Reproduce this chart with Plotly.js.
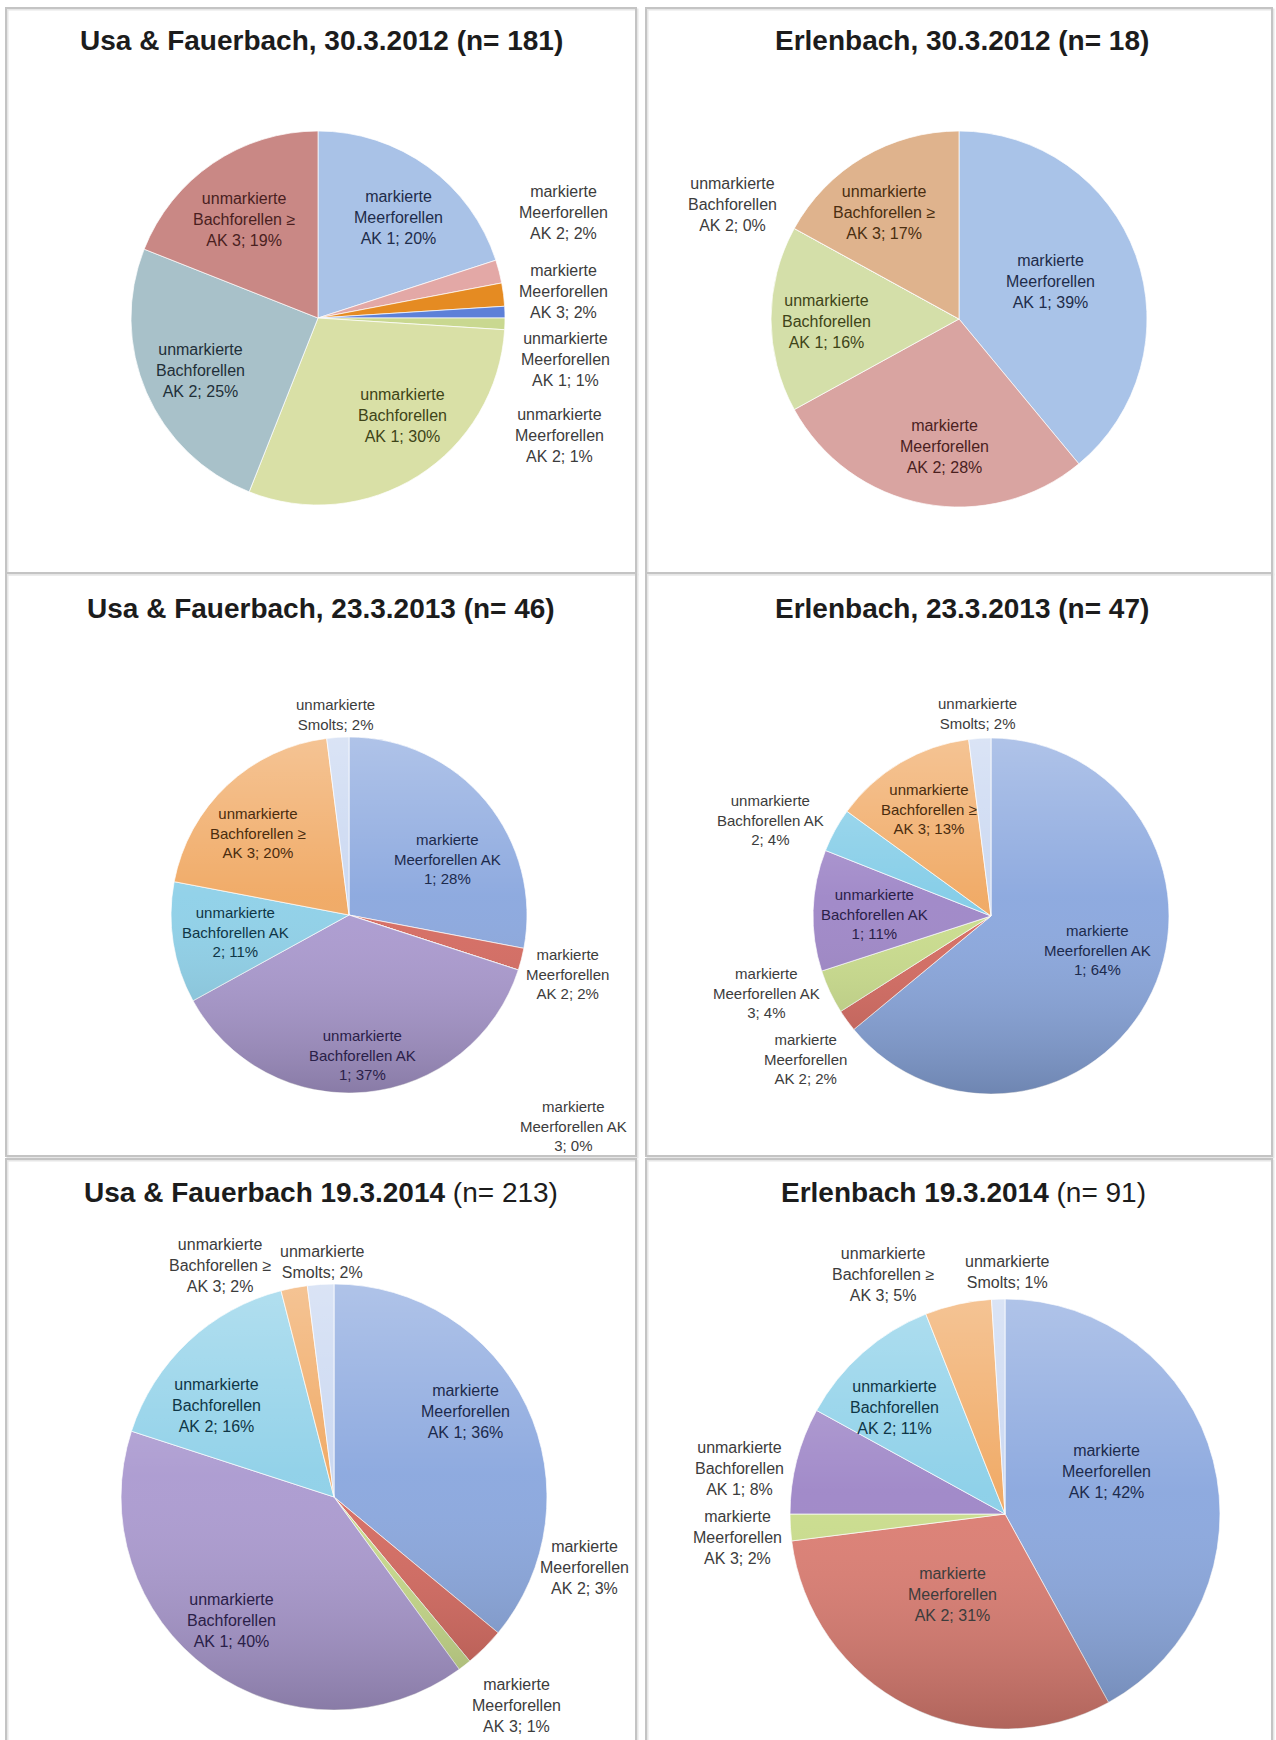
<!DOCTYPE html>
<html>
<head>
<meta charset="utf-8">
<script src="https://cdn.plot.ly/plotly-3.0.1.min.js"></script>
<style>
html,body{margin:0;padding:0;background:#ffffff;}
#chart{width:1276px;height:1740px;}
</style>
</head>
<body>
<div id="chart"></div>
<script>
// ---------------- DATA ----------------
const titlesMain = [
  "Usa & Fauerbach, 30.3.2012 (n= 181)",
  "Erlenbach, 30.3.2012 (n= 18)",
  "Usa & Fauerbach, 23.3.2013 (n= 46)",
  "Erlenbach, 23.3.2013 (n= 47)",
  "Usa & Fauerbach 19.3.2014",
  "Erlenbach 19.3.2014"
];
const titlesN = ["", "", "", "", "(n= 213)", "(n= 91)"];

const cats2012Usa = [
  "markierte Meerforellen AK 1",
  "markierte Meerforellen AK 2",
  "markierte Meerforellen AK 3",
  "unmarkierte Meerforellen AK 1",
  "unmarkierte Meerforellen AK 2",
  "unmarkierte Bachforellen AK 1",
  "unmarkierte Bachforellen AK 2",
  "unmarkierte Bachforellen ≥ AK 3"
];
const values2012Usa = [20, 2, 2, 1, 1, 30, 25, 19];

const cats2012Erl = [
  "markierte Meerforellen AK 1",
  "markierte Meerforellen AK 2",
  "unmarkierte Bachforellen AK 1",
  "unmarkierte Bachforellen AK 2",
  "unmarkierte Bachforellen ≥ AK 3"
];
const values2012Erl = [39, 28, 16, 0, 17];

const catsLater = [
  "markierte Meerforellen AK 1",
  "markierte Meerforellen AK 2",
  "markierte Meerforellen AK 3",
  "unmarkierte Bachforellen AK 1",
  "unmarkierte Bachforellen AK 2",
  "unmarkierte Bachforellen ≥ AK 3",
  "unmarkierte Smolts"
];
const values2013Usa = [28, 2, 0, 37, 11, 20, 2];
const values2013Erl = [64, 2, 4, 11, 4, 13, 2];
const values2014Usa = [36, 3, 1, 40, 16, 2, 2];
const values2014Erl = [42, 31, 2, 8, 11, 5, 1];

// ---------------- STYLE / LAYOUT CONFIG ----------------
const W = 1276, H = 1740;
const FONT = "Liberation Sans, Arial, Helvetica, sans-serif";
const OUT_TEXT = "#3c3c3c";

// slice colours / inside-text colours per chart
const colors2012Usa = ["#a9c2e7", "#e3a8a6", "#e58b22", "#5d80d8", "#c9d890", "#d9e0a6", "#a8c1c9", "#c98885"];
const text2012Usa   = ["#1e2c4a", OUT_TEXT, OUT_TEXT, OUT_TEXT, OUT_TEXT, "#3e4418", "#1f2f38", "#4a1f1f"];
const colors2012Erl = ["#a9c3e8", "#d9a4a1", "#d4dfa9", "#a8c1c9", "#dfb38d"];
const text2012Erl   = ["#1e2c4a", "#4a1f1f", "#3e4418", OUT_TEXT, "#4a2e10"];
const colorsLaterA  = ["#8aa7de", "#d66a60", "#cadd8c", "#ab9ad0", "#8ed0e8", "#f0a862", "#c9d7f1"];
const colorsLaterB  = ["#8aa7de", "#d66a60", "#cadd8c", "#9e86c7", "#82cce7", "#f0a862", "#c9d7f1"];
const colorsLaterC  = ["#8aa7de", "#dc7d72", "#cadd8c", "#9e86c7", "#8acfe8", "#f0a862", "#c9d7f1"];
const textLater     = ["#1c2a4c", OUT_TEXT, OUT_TEXT, "#2a2048", "#0f3646", "#4a2c0e", OUT_TEXT];

// pie geometry: centre (px) and radius (px)
const pies = [
  {cx: 318, cy: 318, r: 187},
  {cx: 959, cy: 319, r: 188},
  {cx: 349, cy: 915, r: 178},
  {cx: 991, cy: 916, r: 178},
  {cx: 334, cy: 1497, r: 213},
  {cx: 1005, cy: 1514, r: 215}
];
const shaded = [false, false, true, true, true, true];
// title positions (px)
const titlePos = [[321, 41], [962, 41], [321, 608], [962, 608], [321, 1192], [963, 1192]];
// panel frames (px)
const panels = [
  [6, 8, 636, 573], [646, 8, 1272, 573],
  [6, 573, 636, 1156], [646, 573, 1272, 1156],
  [6, 1159, 636, 1745], [646, 1159, 1272, 1745]
];
// label placement per slice: [x, y, wrapWidth, insideFlag]
const labelPos = [
  [[398,218,14,1],[563,213,14,0],[563,291,14,0],[565,359,14,0],[559,435,14,0],[402,415,14,1],[200,370,14,1],[244,220,14,1]],
  [[1050,281,14,1],[945,446,14,1],[826,322,14,1],[732,204,14,0],[884,213,14,1]],
  [[447,859,15,1],[567,974,14,0],[573,1126,15,0],[362,1055,15,1],[235,932,15,1],[258,833,15,1],[335,714,15,0]],
  [[1097,950,15,1],[805,1059,14,0],[767,993,15,0],[874,914,15,1],[770,820,15,0],[929,809,15,1],[977,713,15,0]],
  [[465,1411,14,1],[584,1567,14,0],[516,1705,14,0],[231,1620,14,1],[216,1405,14,1],[220,1265,14,0],[322,1262,14,0]],
  [[1106,1471,14,1],[952,1594,14,1],[737,1537,14,0],[739,1468,14,0],[894,1407,14,1],[883,1274,14,0],[1007,1272,14,0]]
];
const labelSize = [16, 16, 15, 15, 16, 16];

const charts = [
  {cats: cats2012Usa, vals: values2012Usa, colors: colors2012Usa, tcol: text2012Usa},
  {cats: cats2012Erl, vals: values2012Erl, colors: colors2012Erl, tcol: text2012Erl},
  {cats: catsLater, vals: values2013Usa, colors: colorsLaterA, tcol: textLater},
  {cats: catsLater, vals: values2013Erl, colors: colorsLaterB, tcol: textLater},
  {cats: catsLater, vals: values2014Usa, colors: colorsLaterA, tcol: textLater},
  {cats: catsLater, vals: values2014Erl, colors: colorsLaterC, tcol: textLater}
];

// soft vertical shading (Excel-style gradient fill) as a transparent overlay
const shadeSvg = '<svg xmlns="http://www.w3.org/2000/svg" width="200" height="200" viewBox="0 0 200 200">' +
  '<defs><linearGradient id="g" x1="0" y1="0" x2="0" y2="1">' +
  '<stop offset="0" stop-color="#ffffff" stop-opacity="0.32"/>' +
  '<stop offset="0.45" stop-color="#ffffff" stop-opacity="0.04"/>' +
  '<stop offset="1" stop-color="#000000" stop-opacity="0.20"/>' +
  '</linearGradient></defs><circle cx="100" cy="100" r="100" fill="url(#g)"/></svg>';
const shadeSrc = "data:image/svg+xml;charset=utf-8," + encodeURIComponent(shadeSvg);

// ---------------- BUILD ----------------
const px = x => x / W;
const py = y => 1 - y / H;

function wrap(str, w) {
  const words = str.split(" ");
  const lines = [];
  let cur = "";
  words.forEach(word => {
    if (cur === "") cur = word;
    else if ((cur + " " + word).length <= w) cur += " " + word;
    else { lines.push(cur); cur = word; }
  });
  if (cur) lines.push(cur);
  return lines.join("<br>");
}

const traces = [];
const annotations = [];
const shapes = [];
const images = [];

panels.forEach(p => {
  shapes.push({type: "rect", xref: "paper", yref: "paper",
    x0: px(p[0] + 1.5), x1: px(p[2] + 1.5), y0: py(p[3] + 1.5), y1: py(p[1] + 1.5),
    line: {color: "#e6e6e6", width: 2}, layer: "below"});
  shapes.push({type: "rect", xref: "paper", yref: "paper",
    x0: px(p[0]), x1: px(p[2]), y0: py(p[3]), y1: py(p[1]),
    line: {color: "#c4c4c4", width: 2}, layer: "below"});
});

charts.forEach((c, k) => {
  const g = pies[k];
  traces.push({
    type: "pie",
    labels: c.cats,
    values: c.vals,
    sort: false,
    direction: "clockwise",
    rotation: 0,
    textinfo: "none",
    hoverinfo: "label+percent",
    showlegend: false,
    marker: {colors: c.colors, line: {color: "rgba(255,255,255,0.7)", width: 1}},
    domain: {x: [px(g.cx - g.r), px(g.cx + g.r)], y: [py(g.cy + g.r), py(g.cy - g.r)]}
  });
  if (shaded[k]) {
    images.push({
      source: shadeSrc, xref: "paper", yref: "paper",
      x: px(g.cx - g.r), y: py(g.cy - g.r), sizex: 2 * g.r / W, sizey: 2 * g.r / H,
      xanchor: "left", yanchor: "top", sizing: "stretch", layer: "above", opacity: 1
    });
  }
  // title
  const tt = titlesN[k] ? "<b>" + titlesMain[k] + "</b> " + titlesN[k] : "<b>" + titlesMain[k] + "</b>";
  annotations.push({
    xref: "paper", yref: "paper", x: px(titlePos[k][0]), y: py(titlePos[k][1]),
    xanchor: "center", yanchor: "middle", showarrow: false,
    text: tt, font: {family: FONT, size: 28, color: "#1c1c1c"}
  });
  // slice labels
  c.cats.forEach((name, i) => {
    const lp = labelPos[k][i];
    const txt = wrap(name + "; " + c.vals[i] + "%", lp[2]);
    annotations.push({
      xref: "paper", yref: "paper", x: px(lp[0]), y: py(lp[1]),
      xanchor: "center", yanchor: "middle", align: "center", showarrow: false,
      text: txt,
      font: {family: FONT, size: labelSize[k], color: lp[3] ? c.tcol[i] : OUT_TEXT}
    });
  });
});

const layout = {
  width: W, height: H,
  margin: {l: 0, r: 0, t: 0, b: 0},
  paper_bgcolor: "#ffffff",
  plot_bgcolor: "#ffffff",
  showlegend: false,
  shapes: shapes,
  images: images,
  annotations: annotations
};

Plotly.newPlot("chart", traces, layout, {displayModeBar: false, staticPlot: true});
</script>
</body>
</html>
